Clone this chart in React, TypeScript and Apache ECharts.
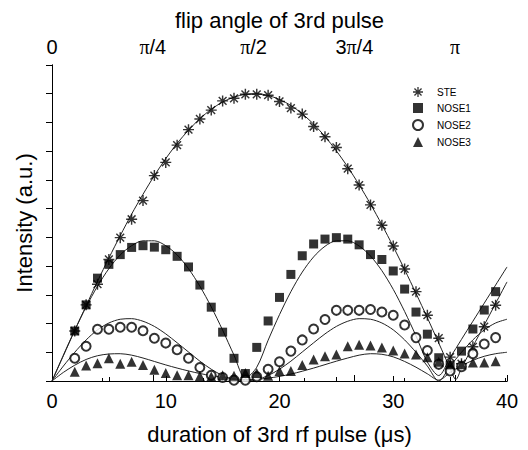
import React, { useEffect, useRef } from "react";
import * as echarts from "echarts";

// measured pulse durations (µs)
const pulseX = [2, 3, 4, 5, 6, 7, 8, 9, 10, 11, 12, 13, 14, 15, 16, 17, 18, 19, 20, 21, 22, 23, 24, 25, 26, 27, 28, 29, 30, 31, 32, 33, 34, 35, 36, 37, 38, 39];
const steValues = [1.74, 2.65, 3.37, 4.23, 4.99, 5.63, 6.28, 7.15, 7.61, 8.21, 8.75, 9.12, 9.43, 9.75, 9.84, 9.98, 9.98, 9.95, 9.73, 9.5, 9.29, 8.86, 8.5, 8.13, 7.39, 6.82, 6.13, 5.42, 4.7, 3.9, 3.11, 2.29, 1.49, 0.83, 0.6, 1.19, 1.89, 2.64];
const nose1Values = [1.74, 2.65, 3.58, 4.06, 4.4, 4.65, 4.71, 4.66, 4.57, 4.34, 3.97, 3.34, 2.57, 1.7, 0.79, 0.26, 1.17, 2.09, 2.91, 3.71, 4.36, 4.77, 4.94, 4.99, 4.94, 4.74, 4.4, 4.23, 3.83, 3.2, 2.4, 1.63, 0.81, 0.55, 1.04, 1.81, 2.47, 3.11];
const nose2Values = [0.79, 1.21, 1.8, 1.8, 1.87, 1.87, 1.75, 1.49, 1.32, 1.09, 0.79, 0.47, 0.2, 0.12, 0.03, 0.03, 0.15, 0.41, 0.67, 1.04, 1.43, 1.81, 2.14, 2.46, 2.46, 2.46, 2.49, 2.4, 2.29, 1.95, 1.51, 1.06, 0.58, 0.35, 0.5, 0.95, 1.29, 1.51];
const nose3Values = [0.32, 0.54, 0.62, 0.79, 0.6, 0.67, 0.56, 0.39, 0.28, 0.2, 0.2, 0.17, 0.16, 0.2, 0.18, 0.28, 0.28, 0.18, 0.35, 0.35, 0.56, 0.75, 0.86, 0.92, 1.21, 1.26, 1.24, 1.17, 1.06, 0.96, 0.92, 0.83, 0.67, 0.58, 0.58, 0.64, 0.64, 0.69];

// calculated curves
const fitX = [0, 1, 2, 3, 4, 5, 6, 7, 8, 9, 10, 11, 12, 13, 14, 15, 16, 17, 18, 19, 20, 21, 22, 23, 24, 25, 26, 27, 28, 29, 30, 31, 32, 33, 34, 35, 35.5, 36, 37, 38, 39, 40];
const fitSTE = [0, 0.88, 1.76, 2.62, 3.47, 4.28, 5.06, 5.81, 6.5, 7.15, 7.74, 8.27, 8.73, 9.13, 9.46, 9.71, 9.88, 9.98, 10.0, 9.94, 9.8, 9.59, 9.3, 8.94, 8.51, 8.01, 7.45, 6.83, 6.16, 5.44, 4.68, 3.88, 3.05, 2.2, 1.32, 0.44, 0.05, 0.45, 1.2, 1.95, 2.7, 3.45];
const fitNOSE1 = [0, 0.9, 1.77, 2.58, 3.3, 3.91, 4.39, 4.71, 4.88, 4.88, 4.71, 4.39, 3.91, 3.3, 2.58, 1.77, 0.9, 0.1, 0.48, 1.42, 2.31, 3.11, 3.79, 4.32, 4.69, 4.88, 4.88, 4.7, 4.35, 3.84, 3.19, 2.42, 1.57, 0.66, 0.19, 0.82, 1.13, 1.45, 2.08, 2.71, 3.34, 3.97];
const fitNOSE2 = [0, 0.52, 1.0, 1.43, 1.78, 2.02, 2.15, 2.17, 2.08, 1.9, 1.64, 1.33, 1.01, 0.69, 0.41, 0.19, 0.05, 0, 0.05, 0.19, 0.41, 0.69, 1.01, 1.33, 1.64, 1.9, 2.08, 2.17, 2.15, 2.02, 1.78, 1.43, 1.0, 0.52, 0, 0.52, 0.76, 1.0, 1.43, 1.78, 2.02, 2.15];
const fitNOSE3 = [0, 0.3, 0.55, 0.75, 0.88, 0.94, 0.95, 0.9, 0.8, 0.68, 0.56, 0.45, 0.35, 0.26, 0.19, 0.13, 0.08, 0.05, 0.06, 0.1, 0.16, 0.24, 0.34, 0.45, 0.57, 0.69, 0.8, 0.9, 0.95, 0.93, 0.84, 0.68, 0.48, 0.25, 0.03, 0.3, 0.42, 0.53, 0.72, 0.86, 0.95, 1.0];

// top axis: flip angle in units of pi/8
const topTickLabels: Record<number, string> = { 0: "0", 2: "{p|π}/4", 4: "{p|π}/2", 6: "3{p|π}/4", 8: "{p|π}" };
const seriesNames = ["STE", "NOSE1", "NOSE2", "NOSE3"];

const FONT = "Liberation Sans, Arial, sans-serif";
const SERIF = "Liberation Serif, Times New Roman, serif";
const ASTERISK =
  "path://M0 8.7L20 8.7L20 11.3L0 11.3ZM8.7 0L11.3 0L11.3 20L8.7 20ZM3.84 1.99L18.01 16.16L16.16 18.01L1.99 3.84ZM16.16 1.99L18.01 3.84L3.84 18.01L1.99 16.16Z";

const pairs = (xs: number[], ys: number[]) => xs.map((x, i) => [x, ys[i]]);

export default function App() {
  const ref = useRef<HTMLDivElement>(null);
  useEffect(() => {
    if (!ref.current) return;
    const chart = echarts.init(ref.current, null, { renderer: "svg" });
    const fitLine = (name: string, ys: number[]) => ({
      name,
      type: "line",
      data: pairs(fitX, ys),
      showSymbol: false,
      smooth: 0.3,
      lineStyle: { color: "#222", width: 1 },
      z: 2,
      silent: true,
    });
    const scatter = (name: string, ys: number[], symbol: string, size: number) => ({
      name,
      type: "scatter",
      data: pairs(pulseX, ys),
      symbol,
      symbolSize: size,
      itemStyle: { color: "#000", borderColor: "#000", borderWidth: symbol === "emptyCircle" ? 1 : 0 },
      z: 5,
    });
    chart.setOption({
      animation: false,
      backgroundColor: "#fff",
      textStyle: { fontFamily: FONT, color: "#000" },
      grid: { left: 52, right: 21, top: 65, bottom: 63, containLabel: false },
      legend: {
        data: seriesNames,
        orient: "vertical",
        left: 412,
        top: 87,
        itemWidth: 10,
        itemHeight: 10,
        itemGap: 6,
        padding: 0,
        textStyle: { fontFamily: FONT, fontSize: 10, color: "#000", padding: [0, 0, 0, 9] },
      },
      xAxis: [
        {
          type: "value",
          position: "bottom",
          min: 0,
          max: 40,
          interval: 10,
          name: "duration of 3rd rf pulse (μs)",
          nameLocation: "middle",
          nameGap: 42,
          nameTextStyle: { fontFamily: FONT, fontSize: 22, color: "#000" },
          axisLine: { show: true, lineStyle: { color: "#000", width: 1 } },
          axisTick: { show: true, inside: true, length: 5, lineStyle: { color: "#000" } },
          minorTick: { show: true, splitNumber: 2, length: 4, lineStyle: { color: "#000" } },
          axisLabel: { fontFamily: FONT, fontSize: 20, color: "#000", margin: 10 },
          splitLine: { show: false },
        },
        {
          type: "value",
          position: "top",
          min: 0,
          max: 9.03,
          interval: 2,
          name: "flip angle of 3rd pulse",
          nameLocation: "middle",
          nameGap: 34,
          nameTextStyle: { fontFamily: FONT, fontSize: 22, color: "#000" },
          axisLine: { show: true, lineStyle: { color: "#000", width: 1 } },
          axisTick: { show: true, inside: false, length: 6, lineStyle: { color: "#000" } },
          minorTick: { show: true, splitNumber: 2, length: 3, lineStyle: { color: "#000" } },
          axisLabel: {
            fontFamily: FONT,
            fontSize: 20,
            color: "#000",
            margin: 8,
            showMaxLabel: false,
            formatter: (v: number) => topTickLabels[Math.round(v)] ?? "",
            rich: { p: { fontFamily: SERIF, fontSize: 20, color: "#000" } },
          },
          splitLine: { show: false },
        },
      ],
      yAxis: [
        {
          type: "value",
          position: "left",
          min: 0,
          max: 11,
          interval: 1,
          name: "Intensity (a.u.)",
          nameLocation: "middle",
          nameGap: 17,
          nameTextStyle: { fontFamily: FONT, fontSize: 22, color: "#000" },
          axisLine: { show: true, lineStyle: { color: "#000", width: 1 } },
          axisTick: { show: true, inside: false, length: 6, lineStyle: { color: "#000" } },
          axisLabel: { show: false },
          splitLine: { show: false },
        },
        {
          type: "value",
          position: "right",
          min: 0,
          max: 11,
          interval: 1,
          axisLine: { show: true, lineStyle: { color: "#000", width: 1 } },
          axisTick: { show: true, inside: true, length: 6, lineStyle: { color: "#000" } },
          axisLabel: { show: false },
          splitLine: { show: false },
        },
      ],
      series: [
        fitLine("fit STE", fitSTE),
        fitLine("fit NOSE1", fitNOSE1),
        fitLine("fit NOSE2", fitNOSE2),
        fitLine("fit NOSE3", fitNOSE3),
        scatter("STE", steValues, ASTERISK, 11),
        scatter("NOSE1", nose1Values, "rect", 9),
        scatter("NOSE2", nose2Values, "emptyCircle", 9),
        scatter("NOSE3", nose3Values, "triangle", 10),
      ],
    });
    return () => chart.dispose();
  }, []);
  return <div ref={ref} style={{ position: "fixed", left: 0, top: 0, width: 528, height: 450, background: "#fff" }} />;
}
